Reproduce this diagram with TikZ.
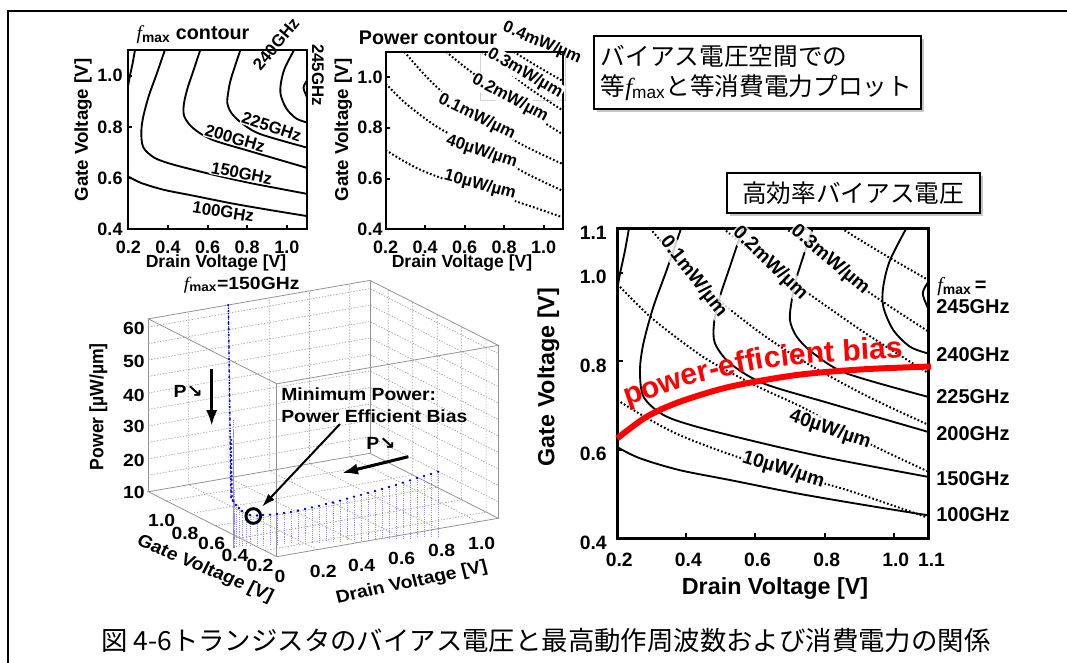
\documentclass[tikz,border=0pt]{standalone}
\usepackage{fontspec}
\setmainfont{Liberation Sans}
\newfontfamily\jpfont{Noto Sans CJK JP}
\newfontfamily\serifit{Liberation Serif}
\newfontfamily\symfont{DejaVu Sans}
\usetikzlibrary{positioning,calc,arrows.meta,shadows,decorations.text}

\newcommand{\fmx}{{\serifit\itshape\mdseries f}\textsubscript{\rmfamily max}}
\newcommand{\pdown}{P{\symfont\bfseries ↘}}

% contours in unit coordinates (u = drain, v = gate)
\newcommand{\fmaxcurves}{%
  \draw[fline] plot[smooth] coordinates {(0,0.294) (0.073,0.258) (0.2,0.22) (0.362,0.188) (0.577,0.145) (0.791,0.108) (1,0.074)};
  \draw[fline] plot[smooth] coordinates {(0.041,1.02) (0.025,0.93) (0.009,0.855) (0,0.806)};
  \draw[fline] plot[smooth] coordinates {(0.212,1.02) (0.159,0.866) (0.116,0.747) (0.084,0.629) (0.073,0.543) (0.084,0.457) (0.148,0.398) (0.255,0.36) (0.469,0.306) (0.684,0.258) (1,0.198)};
  \draw[fline] plot[smooth] coordinates {(0.41,1.02) (0.362,0.876) (0.33,0.78) (0.311,0.694) (0.314,0.629) (0.362,0.565) (0.469,0.5) (0.684,0.435) (1,0.343)};
  \draw[fline] plot[smooth] coordinates {(0.635,1.02) (0.577,0.844) (0.561,0.769) (0.555,0.704) (0.577,0.65) (0.63,0.597) (0.737,0.532) (1,0.456)};
  \draw[fline] plot[smooth] coordinates {(0.94,1.02) (0.877,0.898) (0.855,0.812) (0.855,0.747) (0.887,0.672) (0.941,0.618) (1,0.596)};
  \draw[fline] plot[smooth] coordinates {(1.01,0.84) (0.982,0.79) (1.01,0.72)};
}
\newcommand{\powercurves}{%
  \draw[pline] plot[smooth] coordinates {(0,0.446) (0.1,0.385) (0.2,0.333) (0.35,0.275) (0.55,0.21) (0.75,0.152) (1,0.066)};
  \draw[pline] plot[smooth] coordinates {(0,0.82) (0.1,0.72) (0.2,0.64) (0.3,0.57) (0.45,0.49) (0.6,0.42) (0.8,0.31) (1,0.215)};
  \draw[pline] plot[smooth] coordinates {(0.105,1) (0.2,0.89) (0.3,0.79) (0.45,0.67) (0.6,0.57) (0.8,0.46) (1,0.366)};
  \draw[pline] plot[smooth] coordinates {(0.34,1) (0.45,0.91) (0.6,0.8) (0.8,0.66) (1,0.533)};
  \draw[pline] plot[smooth] coordinates {(0.54,1) (0.65,0.92) (0.8,0.8) (1,0.667)};
  \draw[pline] plot[smooth] coordinates {(0.72,1) (0.85,0.92) (1,0.833)};
}

\tikzset{
  frameline/.style={line width=1.5pt},
  boxline/.style={line width=1.5pt},
  fline/.style={line width=1.4pt},
  pline/.style={line width=1.5pt, dash pattern=on 1.3pt off 1.6pt},
  ticklbl/.style={font=\bfseries\fontsize{13.5}{13.5}\selectfont, inner sep=0pt},
  bigtick/.style={font=\bfseries\fontsize{14.5}{14.5}\selectfont, inner sep=0pt},
  axlbl/.style={font=\bfseries\fontsize{13.2}{13.2}\selectfont, inner sep=0pt},
  bigaxlbl/.style={font=\bfseries\fontsize{17.5}{17.5}\selectfont, inner sep=0pt},
  ctrlbl/.style={font=\bfseries\fontsize{12.6}{12.6}\selectfont, inner sep=0.6pt},
  bigctrlbl/.style={font=\bfseries\fontsize{14.5}{14.5}\selectfont, inner sep=0.8pt,
    fill=white, fill opacity=0.8, text opacity=1},
  ttl/.style={font=\bfseries\fontsize{14.8}{14.8}\selectfont, inner sep=0pt},
  fmaxlbl/.style={font=\bfseries\fontsize{15}{15}\selectfont, anchor=west, inner sep=0pt},
  jpbox/.style={draw, line width=1.5pt, fill=white, inner xsep=5pt,
    drop shadow={opacity=0.45, shadow xshift=2.2pt, shadow yshift=-2.2pt}},
  grid3d/.style={gray!75, line width=0.5pt, dash pattern=on 1pt off 1.2pt},
  edge3d/.style={gray!85, line width=0.6pt},
  lbl3d/.style={font=\bfseries\fontsize{13.2}{13.2}\selectfont, inner sep=0pt, xscale=1.1},
  datacol/.style={blue!85!black},
  stemline/.style={blue!45, line width=0.4pt, dash pattern=on 0.8pt off 0.8pt},
  heavyarrow/.style={line width=2.3pt, -{Latex[length=12pt,width=8.5pt]}},
  ptrarrow/.style={line width=1.5pt, -{Latex[length=10pt,width=6.5pt]}},
  rcurve/.style={red, line width=4.5pt},
}

\begin{document}
\begin{tikzpicture}[x=0.75pt,y=-0.75pt]
\useasboundingbox (0,0) rectangle (1067,663);
% outer frame
\draw[frameline] (1067,11) -- (8,11) -- (8,663);

% ---------------- fmax contour (top left)
\begin{scope}[shift={(128.3,229.3)}, x={(133.8pt,0pt)}, y={(0pt,134.5pt)}]
  \begin{scope}
    \clip (0,0) rectangle (1,1);
    \fmaxcurves
  \end{scope}
  \foreach \u in {0.222,0.444,0.667,0.889} \draw[boxline] (\u,0) -- ++(0pt,3pt);
  \foreach \v in {0.286,0.571,0.857} \draw[boxline] (0,\v) -- ++(3pt,0pt);
  \draw[boxline] (0,0) rectangle (1,1);
\end{scope}
\node[ctrlbl, fill=white, rotate=-18] (f225) at (271.7,126.7) {225GHz};
\node[ctrlbl, fill=white, rotate=-16] (f200) at (235,138.3) {200GHz};
\node[ctrlbl, fill=white, rotate=-11] (f150) at (241.7,173.3) {150GHz};
\node[ctrlbl, fill=white, rotate=-9] (f100) at (223.3,211.7) {100GHz};
\node[ctrlbl, rotate=50] (f240) at (276,44) {240GHz};
\node[ctrlbl, rotate=-90] (f245) at (318,75) {245GHz};
\node[ttl] (fttl) at (193,35) {\fmx\ contour};
\foreach \xx/\t [count=\i] in {128.3/0.2,168/0.4,207.6/0.6,247.2/0.8,286.9/1.0}
  \node[ticklbl] (fxt\i) at (\xx,247) {\t};
\foreach \yy/\t [count=\i] in {229.3/0.4,178.1/0.6,126.9/0.8,75.7/1.0}
  \node[ticklbl] (fyt\i) at (110,\yy) {\t};
\node[axlbl] (fxlab) at (216,263) {Drain Voltage [V]};
\node[axlbl, rotate=90, font=\bfseries\fontsize{14}{14}\selectfont] (fylab) at (83,130) {Gate Voltage [V]};

% ---------------- power contour (top middle)
\draw[gray!35, line width=0.6pt] (480,51.7) rectangle (565,100);
\begin{scope}[shift={(385.7,229.3)}, x={(133.2pt,0pt)}, y={(0pt,133.2pt)}]
  \begin{scope}
    \clip (0,0) rectangle (1,1);
    \powercurves
  \end{scope}
  \foreach \u in {0.222,0.444,0.667,0.889} \draw[boxline] (\u,0) -- ++(0pt,3pt);
  \foreach \v in {0.286,0.571,0.857} \draw[boxline] (0,\v) -- ++(3pt,0pt);
  \draw[boxline] (0,0) rectangle (1,1);
\end{scope}
\node[ctrlbl, rotate=-23] (p400) at (542,43.3) {0.4mW/µm};
\node[ctrlbl, fill=white, rotate=-30] (p300) at (525,73.3) {0.3mW/µm};
\node[ctrlbl, fill=white, rotate=-28] (p200) at (510,98.3) {0.2mW/µm};
\node[ctrlbl, fill=white, rotate=-26] (p100) at (476.7,116.7) {0.1mW/µm};
\node[ctrlbl, fill=white, rotate=-18] (p40) at (481.7,151.7) {40µW/µm};
\node[ctrlbl, fill=white, rotate=-15] (p10) at (480,185) {10µW/µm};
\node[ttl] (pttl) at (428,38.3) {Power contour};
\foreach \xx/\t [count=\i] in {385.7/0.2,425.2/0.4,464.6/0.6,504.1/0.8,543.6/1.0}
  \node[ticklbl] (pxt\i) at (\xx,247) {\t};
\foreach \yy/\t [count=\i] in {229.3/0.4,178.6/0.6,127.8/0.8,77.1/1.0}
  \node[ticklbl] (pyt\i) at (370,\yy) {\t};
\node[axlbl] (pxlab) at (462,263) {Drain Voltage [V]};
\node[axlbl, rotate=90, font=\bfseries\fontsize{14}{14}\selectfont] (pylab) at (343.3,130) {Gate Voltage [V]};

% ---------------- text boxes
\node[jpbox, anchor=north west, minimum width=245.5pt, minimum height=55pt,
  text width=235pt, align=left, font=\jpfont\fontsize{18.5}{22.5}\selectfont]
  (planbox) at (592.7,35) {バイアス電圧空間での\\等\fmx と等消費電力プロット};
\node[jpbox, minimum width=190pt, minimum height=30pt,
  font=\jpfont\fontsize{18.5}{18.5}\selectfont] (effbox) at (853.3,193.3) {高効率バイアス電圧};

% ---------------- combined plot (right)
\begin{scope}[shift={(617.3,538.3)}, x={(233.3pt,0pt)}, y={(0pt,232.5pt)}]
  \begin{scope}
    \clip (0,0) rectangle (1,1);
    \fmaxcurves
    \powercurves
  \end{scope}
  \foreach \u in {0.222,0.444,0.667,0.889} \draw[boxline] (\u,0) -- ++(0pt,4pt);
  \foreach \v in {0.286,0.571,0.857} \draw[boxline] (0,\v) -- ++(4pt,0pt);
  \draw[line width=1.8pt] (0,0) rectangle (1,1);
\end{scope}
\node[bigctrlbl, rotate=-52] (r100) at (693.3,276.7) {0.1mW/µm};
\node[bigctrlbl, rotate=-44] (r200) at (770,263.3) {0.2mW/µm};
\node[bigctrlbl, rotate=-40] (r300) at (830,260) {0.3mW/µm};
\node[bigctrlbl, rotate=-19] (r40) at (830,430) {40µW/µm};
\node[bigctrlbl, rotate=-17] (r10) at (783.3,470) {10µW/µm};
\draw[rcurve] plot[smooth] coordinates {(617.3,438.3) (646.7,416.7) (680,401.7) (730,386.7) (796.7,375) (863.3,369.3) (931,366.5)};
\path[decorate, decoration={text along path, text color=red,
  text={|\bfseries\fontsize{22.5}{22.5}\selectfont|power-efficient bias}}]
  plot[smooth] coordinates {(627,406) (697,383) (763,369) (830,362) (930,356)};
\foreach \xx/\t [count=\i] in {619.3/0.2,688.4/0.4,757.5/0.6,826.7/0.8,895.8/1.0,931.5/1.1}
  \node[bigtick] (rxt\i) at (\xx,560) {\t};
\foreach \yy/\t [count=\i] in {542.8/0.4,454.2/0.6,365.6/0.8,277.1/1.0,232.8/1.1}
  \node[bigtick] (ryt\i) at (593.3,\yy) {\t};
\node[bigaxlbl] (rxlab) at (775,588.5) {Drain Voltage [V]};
\node[bigaxlbl, rotate=90] (rylab) at (548.3,377) {Gate Voltage [V]};
\node[fmaxlbl] (rfmax) at (937,286.7) {\fmx\,=};
\foreach \yy/\t [count=\i] in {306.7/245GHz,355/240GHz,396.7/225GHz,433.3/200GHz,478.3/150GHz,515/100GHz}
  \node[fmaxlbl] (rf\i) at (936,\yy) {\t};

% ---------------- 3D plot (bottom left)
\begin{scope}[shift={(276.7,556.7)}, x={(151.1pt,26.2pt)}, y={(-91.7pt,46.4pt)}, z={(0pt,2.47pt)}]
  \foreach \p in {5,10,...,50}
    \draw[grid3d] (0,1.05,\p) -- (1.1,1.05,\p) -- (1.1,0,\p);
  \foreach \d in {0.2,0.4,0.6,0.8,1.0}
    \draw[grid3d] (\d,0,0) -- (\d,1.05,0) -- (\d,1.05,52.5);
  \foreach \g in {0.1,0.3,0.5,0.7,0.9}
    \draw[grid3d] (0,\g,0) -- (1.1,\g,0) -- (1.1,\g,52.5);
  \draw[edge3d] (0,0,0) -- (1.1,0,0) -- (1.1,1.05,0) -- (0,1.05,0) -- cycle;
  \draw[edge3d] (0,0,52.5) -- (1.1,0,52.5) -- (1.1,1.05,52.5) -- (0,1.05,52.5) -- cycle;
  \foreach \d/\g in {0/0,1.1/0,1.1/1.05,0/1.05}
    \draw[edge3d] (\d,\g,0) -- (\d,\g,52.5);
\end{scope}
% stems and data along fmax = 150GHz
\foreach \xx/\yy in {233/501,236/505,239/508,242/511,246/513,250/515,257/515.5,263/515,270/514.6,277/514,284/513,291/512,298/510.5,305/509,312/507.3,319/505.8,326/504,333/502.5,340/500.6,347/498.6,354/496.7,361/494.8,368/492.9,375/491,382/489,389/487,396/485,403/482.6,410/480.3,417/478,424/476,431/474,438/471.7}
  \draw[stemline] (\xx,\yy) -- (\xx,{546.7-(\xx-233)*0.049});
\foreach \yy in {420,430,...,500}
  \draw[stemline] ({228.3+(\yy-305)*0.014+3},\yy) -- ({228.3+(\yy-305)*0.014+3},547);
\draw[datacol, line width=0.7pt, dash pattern=on 1pt off 1pt] (228.3,305) -- (231,497) -- (233,501);
\foreach \yy in {305,311,...,497}
  \fill[datacol] ({228.3+(\yy-305)*0.014},\yy) circle (0.85pt);
\foreach \yy in {440,444,...,496}
  \fill[datacol] ({229.3+(\yy-305)*0.014},\yy) circle (0.8pt);
\foreach \xx/\yy in {233/501,236/505,239/508,242/511,246/513,250/515,257/515.5,263/515,270/514.6,277/514,284/513,291/512,298/510.5,305/509,312/507.3,319/505.8,326/504,333/502.5,340/500.6,347/498.6,354/496.7,361/494.8,368/492.9,375/491,382/489,389/487,396/485,403/482.6,410/480.3,417/478,424/476,431/474,438/471.7}
  \fill[datacol] (\xx,\yy) circle (0.95pt);
% 3D labels
\node[lbl3d] (ttl3d) at (241.7,285) {\fmx=150GHz};
\foreach \yy/\t [count=\i] in {328.3/60,361.7/50,395/40,426.7/30,460/20,492.7/10}
  \node[lbl3d] (zt\i) at (134,\yy) {\t};
\node[lbl3d, rotate=90] (zlab) at (98.3,406.7) {Power [µW/µm]};
\foreach \xx/\yy/\t [count=\i] in {161.7/520.7/1.0,185/533.3/0.8,211.7/543.3/0.6,235/555/0.4,260/565/0.2}
  \node[lbl3d] (gt\i) at (\xx,\yy) {\t};
\node[lbl3d, rotate=-25] (glab) at (205,569) {Gate Voltage [V]};
\foreach \xx/\yy/\t [count=\i] in {280/576.7/0,323.3/571.7/0.2,361.7/565/0.4,401.7/558.3/0.6,441.7/550/0.8,481.7/543.3/1.0}
  \node[lbl3d] (dt\i) at (\xx,\yy) {\t};
\node[lbl3d, rotate=13] (dlab) at (411.7,583) {Drain Voltage [V]};
% arrows and annotation
\node[lbl3d] (pdn1) at (188.3,391.7) {\pdown};
\node[lbl3d] (pdn2) at (381,443.3) {\pdown};
\coordinate (pa1) at (211.7,369);
\coordinate (pa2) at (211.7,426);
\draw[heavyarrow] (pa1) -- (pa2);
\coordinate (pb1) at (408.3,456.7);
\coordinate (pb2) at (342,473);
\draw[heavyarrow] (pb1) -- (pb2);
\node[lbl3d, anchor=west, align=left, font=\bfseries\fontsize{13.2}{16.5}\selectfont] (mintext) at (281,405) {Minimum Power:\\Power Efficient Bias};
\node[draw, circle, line width=2.2pt, minimum size=11pt, inner sep=0pt] (minpt) at (253.3,516) {};
\coordinate (ptrstart) at (340,424);
\draw[ptrarrow, shorten >=3pt] (ptrstart) -- (minpt);

% ---------------- caption
\node[font=\jpfont\fontsize{19.8}{19.8}\selectfont, inner sep=0pt] (caption) at (546,641) {図 4-6トランジスタのバイアス電圧と最高動作周波数および消費電力の関係};
\end{tikzpicture}
\end{document}
